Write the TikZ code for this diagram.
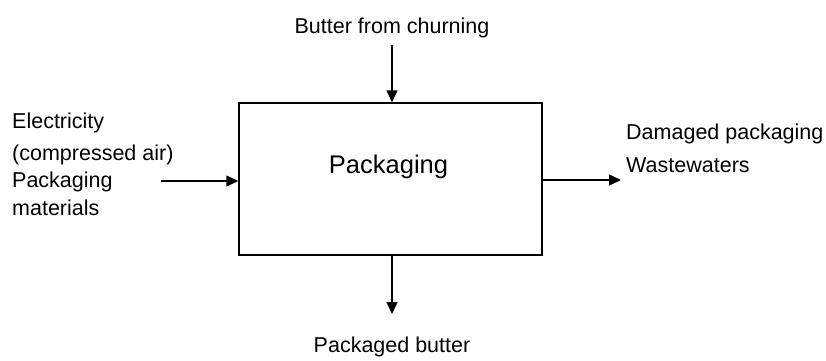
\documentclass[tikz,border=0pt]{standalone}
\usepackage{fontspec}
\setmainfont{Liberation Sans}
\usetikzlibrary{arrows.meta,positioning}

\begin{document}
\begin{tikzpicture}[x=1pt,y=-1pt]
	\tikzstyle{every node}=[inner sep=0pt,font=\fontsize{21.5}{26}\selectfont]
	\tikzstyle{flow}=[line width=1.5pt,-{Triangle[length=12pt,width=11pt]}]
	\tikzstyle{procbox}=[draw,line width=1.5pt,minimum width=303pt,minimum height=152pt]
	\tikzstyle{proclbl}=[anchor=base,font=\fontsize{25.5}{30}\selectfont]
	
	\useasboundingbox (0,0) rectangle (826,360);
	
	\node[procbox] (pack) at (390.5,179) {};
	\node[proclbl] (packlbl) at (388.5,173) {Packaging};
	
	% input from above
	\node[anchor=base] (butin) at (392,33) {Butter from churning};
	\coordinate (topstart) at (392,45);
	\draw[flow] (topstart) -- (pack.north -| topstart);
	
	% inputs from the left
	\node[anchor=base west] (elec) at (12,128) {Electricity};
	\node[anchor=base west] (air) at (12,160) {(compressed air)};
	\node[anchor=base west] (pmat) at (12,187) {Packaging};
	\node[anchor=base west] (mat) at (12,215) {materials};
	\coordinate (leftstart) at (161,181);
	\draw[flow] (leftstart) -- (pack.west |- leftstart);
	
	% outputs to the right
	\node[anchor=base west] (dmg) at (626,139) {Damaged packaging};
	\node[anchor=base west] (waste) at (626,172) {Wastewaters};
	\coordinate (rightend) at (621,180);
	\draw[flow] (pack.east |- rightend) -- (rightend);
	
	% output below
	\coordinate (botend) at (392,314);
	\node[anchor=base] (butout) at (392,352) {Packaged butter};
	\draw[flow] (pack.south -| botend) -- (botend);
	
\end{tikzpicture}
\end{document}
